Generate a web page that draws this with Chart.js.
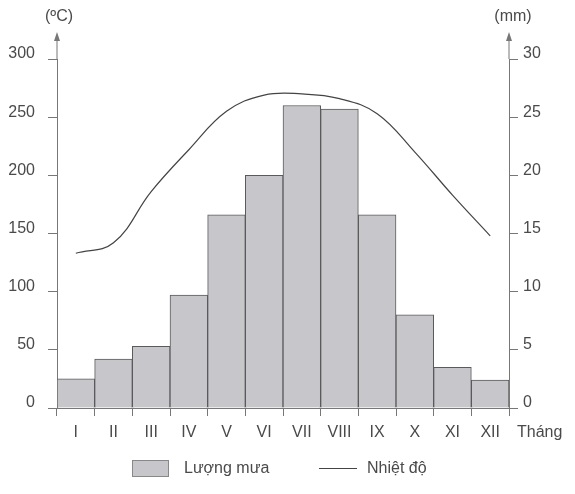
<!DOCTYPE html>
<html>
<head>
<meta charset="utf-8">
<script src="https://cdn.jsdelivr.net/npm/chart.js@4.4.1/dist/chart.umd.min.js"></script>
<style>
  html, body { margin: 0; padding: 0; background: #fff; }
  #wrap { width: 575px; height: 494px; }
</style>
</head>
<body>
<div id="wrap"><canvas id="chart" width="575" height="494"></canvas></div>
<script>
// Dữ liệu
const months = ["I", "II", "III", "IV", "V", "VI", "VII", "VIII", "IX", "X", "XI", "XII"];
const rain = [25, 42, 53, 97, 166, 200, 260, 257, 166, 80, 35, 24];
const temp = [13.3, 14.2, 18.6, 22.2, 25.5, 26.9, 27.0, 26.6, 25.3, 22.0, 18.3, 14.8];
const leftTicks = [0, 50, 100, 150, 200, 250, 300];
const rightTicks = [0, 5, 10, 15, 20, 25, 30];

const axisColor = "#777";
const textColor = "#4a4a4a";
const barFill = "#c7c7cb";
const barBorder = "#5a5a5a";
const lineColor = "#444";
const font = { family: "'Liberation Sans', Arial, sans-serif", size: 16 };

// Vẽ mũi tên trục, đơn vị và chú giải
const decor = {
    id: "decor",
    afterDraw(chart) {
        const ctx = chart.ctx;
        const a = chart.chartArea;
        ctx.save();
        ctx.strokeStyle = axisColor;
        ctx.fillStyle = axisColor;
        ctx.lineWidth = 1;
        [a.left, a.right].forEach(x => {
            ctx.beginPath();
            ctx.moveTo(x, a.top);
            ctx.lineTo(x, 36);
            ctx.stroke();
            ctx.beginPath();
            ctx.moveTo(x, 32);
            ctx.lineTo(x - 3, 41);
            ctx.lineTo(x + 3, 41);
            ctx.closePath();
            ctx.fill();
        });

        ctx.fillStyle = textColor;
        ctx.font = "16px 'Liberation Sans', Arial, sans-serif";
        ctx.textBaseline = "middle";
        ctx.textAlign = "center";
        ctx.fillText("(ºC)", 59, 17);
        ctx.fillText("(mm)", 513, 17);
        ctx.textAlign = "left";
        ctx.fillText("Tháng", 517, 433);

        // chú giải
        ctx.fillStyle = barFill;
        ctx.fillRect(132, 460, 37, 17);
        ctx.strokeStyle = "#888";
        ctx.strokeRect(132.5, 460.5, 36, 16);
        ctx.fillStyle = textColor;
        ctx.fillText("Lượng mưa", 184, 469);
        ctx.strokeStyle = lineColor;
        ctx.beginPath();
        ctx.moveTo(319, 468.5);
        ctx.lineTo(357, 468.5);
        ctx.stroke();
        ctx.fillText("Nhiệt độ", 367, 469);
        ctx.restore();
    }
};

new Chart(document.getElementById("chart"), {
    data: {
        labels: months,
        datasets: [
            {
                type: "line",
                label: "Nhiệt độ",
                data: temp,
                yAxisID: "y1",
                borderColor: lineColor,
                borderWidth: 1.2,
                pointRadius: 0,
                tension: 0.4,
                order: 0
            },
            {
                type: "bar",
                label: "Lượng mưa",
                data: rain,
                yAxisID: "y",
                backgroundColor: barFill,
                borderColor: barBorder,
                borderWidth: 1,
                barPercentage: 1,
                categoryPercentage: 1,
                order: 1
            }
        ]
    },
    options: {
        responsive: false,
        animation: false,
        layout: { padding: { top: 59, bottom: 0, left: 0, right: 0 } },
        plugins: {
            legend: { display: false },
            tooltip: { enabled: false }
        },
        scales: {
            x: {
                afterFit: s => { s.height = 86; },
                grid: { drawOnChartArea: false, tickLength: 8, color: axisColor, offset: true },
                border: { color: axisColor },
                ticks: { color: textColor, font: font, padding: 7, maxRotation: 0 }
            },
            y: {
                position: "left",
                min: 0,
                max: 300,
                afterFit: s => { s.width = 57; },
                afterBuildTicks: s => { s.ticks = leftTicks.map(v => ({ value: v })); },
                grid: { drawOnChartArea: false, tickLength: 9, color: axisColor },
                border: { color: axisColor },
                ticks: { color: textColor, font: font, padding: 13, labelOffset: -5 }
            },
            y1: {
                position: "right",
                min: 0,
                max: 30,
                afterFit: s => { s.width = 66; },
                afterBuildTicks: s => { s.ticks = rightTicks.map(v => ({ value: v })); },
                grid: { drawOnChartArea: false, tickLength: 9, color: axisColor },
                border: { color: axisColor },
                ticks: { color: textColor, font: font, padding: 5, labelOffset: -5 }
            }
        }
    },
    plugins: [decor]
});
</script>
</body>
</html>
